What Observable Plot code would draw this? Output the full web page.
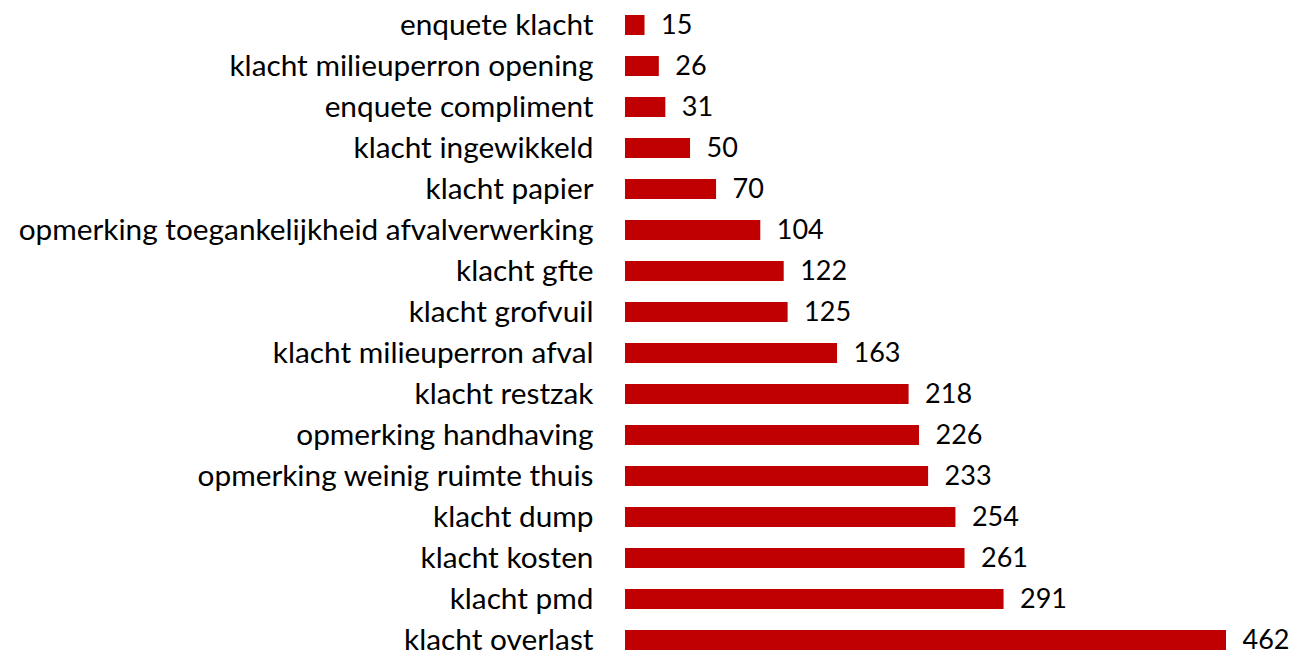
<!DOCTYPE html>
<html>
<head>
<meta charset="utf-8">
<script src="https://cdn.jsdelivr.net/npm/d3@7"></script>
<script src="https://cdn.jsdelivr.net/npm/@observablehq/plot@0.6"></script>
<style>
  html, body { margin: 0; padding: 0; background: #fff; }
</style>
</head>
<body>
<div id="chart"></div>
<script>
const categories = [
  "enquete klacht",
  "klacht milieuperron opening",
  "enquete compliment",
  "klacht ingewikkeld",
  "klacht papier",
  "opmerking toegankelijkheid afvalverwerking",
  "klacht gfte",
  "klacht grofvuil",
  "klacht milieuperron afval",
  "klacht restzak",
  "opmerking handhaving",
  "opmerking weinig ruimte thuis",
  "klacht dump",
  "klacht kosten",
  "klacht pmd",
  "klacht overlast"
];
const values = [15, 26, 31, 50, 70, 104, 122, 125, 163, 218, 226, 233, 254, 261, 291, 462];

const data = categories.map((c, i) => ({category: c, value: values[i]}));

const chart = Plot.plot({
  width: 1311,
  height: 656,
  marginLeft: 625,
  marginRight: 85,
  marginTop: 0,
  marginBottom: 0,
  style: {fontFamily: "Lato, 'Open Sans', sans-serif", fontSize: "29.8px", color: "#000", background: "#fff"},
  x: {domain: [0, 462], axis: null},
  y: {domain: categories, range: [1.33, 662.67], paddingInner: 0.516, paddingOuter: 0.258, label: null, tickSize: 0, tickPadding: 32},
  marks: [
    Plot.barX(data, {x: "value", y: "category", fill: "#C00000"}),
    Plot.text(data, {x: "value", y: "category", text: d => String(d.value), textAnchor: "start", dx: 16, fontSize: 27, fill: "#000"})
  ]
});
document.getElementById("chart").appendChild(chart);
</script>
</body>
</html>
